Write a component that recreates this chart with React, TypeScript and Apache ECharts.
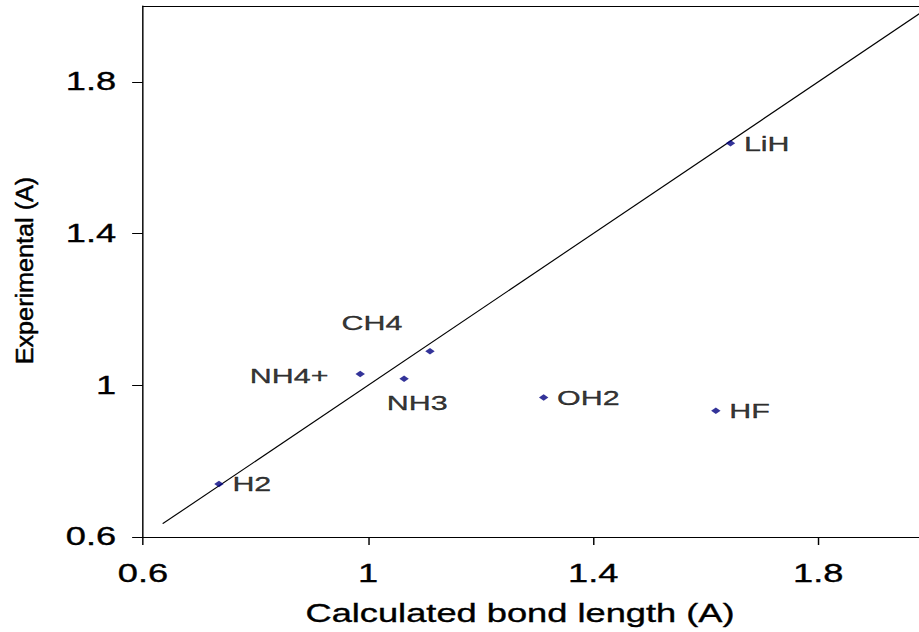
import React, { useEffect, useRef } from "react";
import * as echarts from "echarts";

// ---- data ----
const molecules = ["H2", "NH4+", "NH3", "CH4", "OH2", "HF", "LiH"];
const calculated = [0.735, 0.986, 1.064, 1.11, 1.312, 1.618, 1.644];
const experimental = [0.74, 1.03, 1.017, 1.09, 0.968, 0.933, 1.638];
const fitLineX = [0.635, 2.0]; // y = x reference line
const xTicks = [0.6, 1, 1.4, 1.8];
const yTicks = [0.6, 1, 1.4, 1.8];
const xTitle = "Calculated bond length (A)";
const yTitle = "Experimental (A)";

// ---- layout / style ----
const S = 1.45; // horizontal stretch of the whole picture
const CW = 919 / S;
const CH = 632;
const FONT = "'Liberation Sans', Arial, Helvetica, sans-serif";
const TEXT_BOLDEN = { textBorderColor: "#000", textBorderWidth: 0.35 };

const labelStyles: Record<string, any> = {
  CH4: { position: "inside", offset: [-40, -28.6] },
  "NH4+": { position: "inside", offset: [-49, 1.5] },
  NH3: { position: "inside", offset: [9, 24] },
};

function buildOption(): any {
  const points = molecules.map((name, i) => ({
    name,
    value: [calculated[i], experimental[i]],
    label: labelStyles[name] || { position: "right", distance: 6 },
  }));
  const linePts = fitLineX.map((v) => [v, v]);
  const axisCommon = {
    type: "value",
    min: 0.6,
    max: 2.0,
    splitLine: { show: false },
    axisLine: { show: true, onZero: false, lineStyle: { color: "#000", width: 1 } },
  };
  const tickLabel = {
    fontSize: 25,
    color: "#000",
    fontFamily: FONT,
    ...TEXT_BOLDEN,
    formatter: (v: number) => String(v),
  };
  return {
    animation: false,
    backgroundColor: "#fff",
    grid: {
      left: 143 / S,
      right: CW - 930.5 / S,
      top: 6,
      bottom: 95,
      show: false,
      containLabel: false,
      outerBoundsMode: "none",
    },
    xAxis: [
      {
        ...axisCommon,
        position: "bottom",
        axisTick: { show: true, customValues: xTicks, length: 8, lineStyle: { color: "#000" } },
        axisLabel: { ...tickLabel, customValues: xTicks, margin: 24 },
      },
      {
        ...axisCommon,
        position: "top",
        axisTick: { show: false },
        axisLabel: { show: false },
      },
    ],
    yAxis: {
      ...axisCommon,
      axisTick: { show: true, customValues: yTicks, length: 7.5, lineStyle: { color: "#000" } },
      axisLabel: { ...tickLabel, customValues: yTicks, margin: 18.5 },
    },
    graphic: [
      {
        type: "text",
        x: 520 / S,
        y: 613.5,
        style: {
          text: xTitle,
          font: `25px ${FONT}`,
          fill: "#000",
          stroke: "#000",
          lineWidth: 0.35,
          align: "center",
          verticalAlign: "middle",
          textAlign: "center",
          textVerticalAlign: "middle",
        },
      },
      {
        type: "text",
        x: 25 / S,
        y: 270.5,
        rotation: Math.PI / 2,
        scaleX: 1.05,
        scaleY: 0.7,
        style: {
          text: yTitle,
          font: `24px ${FONT}`,
          fill: "#000",
          stroke: "#000",
          lineWidth: 0.5,
          align: "center",
          verticalAlign: "middle",
          textAlign: "center",
          textVerticalAlign: "middle",
        },
      },
    ],
    series: [
      {
        type: "line",
        xAxisIndex: 0,
        data: linePts,
        symbol: "none",
        lineStyle: { color: "#000", width: 1 },
        silent: true,
        z: 1,
      },
      {
        type: "scatter",
        xAxisIndex: 0,
        data: points,
        symbol: "diamond",
        symbolSize: 6.5,
        itemStyle: { color: "#000080" },
        label: {
          show: true,
          formatter: "{b}",
          fontSize: 21,
          color: "#000",
          fontFamily: FONT,
          ...TEXT_BOLDEN,
        },
        z: 3,
      },
    ],
  };
}

export default function App() {
  const ref = useRef<HTMLDivElement>(null);
  useEffect(() => {
    if (!ref.current) return;
    const chart = echarts.init(ref.current, null, { renderer: "svg" });
    chart.setOption(buildOption());
    return () => chart.dispose();
  }, []);
  return (
    <div
      ref={ref}
      style={{
        position: "fixed",
        left: 0,
        top: 0,
        width: CW,
        height: CH,
        background: "#fff",
        transform: `scaleX(${S})`,
        transformOrigin: "0 0",
      }}
    />
  );
}
